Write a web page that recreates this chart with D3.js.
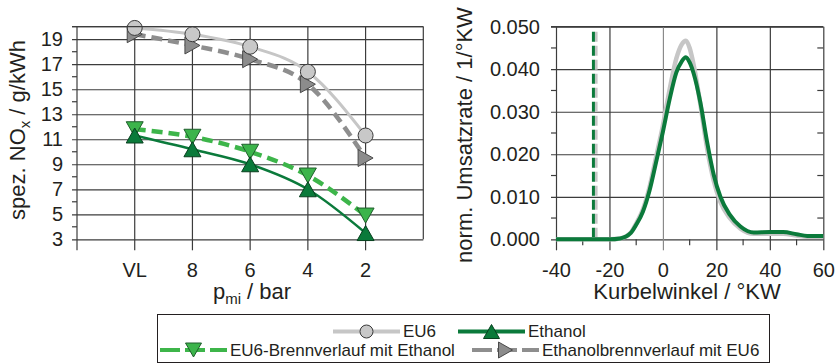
<!DOCTYPE html>
<html>
<head>
<meta charset="utf-8">
<script src="https://cdn.jsdelivr.net/npm/d3@7"></script>
<style>
    body { margin: 0; background: #fff; }
    text { font-family: "Liberation Sans", Arial, sans-serif; fill: #231f20; }
</style>
</head>
<body>
<div class="js-canvas"></div>
<script>
'use strict';

// left chart: NOx over load points
const categories = ['VL', '8', '6', '4', '2'];
const eu6 = [19.9, 19.4, 18.4, 16.4, 11.3];
const ethanolBrennEU6 = [19.4, 18.5, 17.4, 15.4, 9.5];
const eu6BrennEthanol = [11.8, 11.2, 10.0, 8.1, 4.9];
const ethanol = [11.3, 10.2, 9.0, 7.0, 3.5];
const noxTicks = [3, 5, 7, 9, 11, 13, 15, 17, 19];

// right chart: normalised heat release rate
const crankAngle = [-40, -20, -16, -12, -10, -7.5, -5, -2.5, 0, 2.5, 5, 7, 8.6, 10, 11.5, 14, 16.5, 19, 21.5, 25, 29, 34, 40, 45, 50, 54, 60];
const rateEU6 = [0, 0, 0.0002, 0.0016, 0.0037, 0.0070, 0.0123, 0.0195, 0.0268, 0.0352, 0.0425, 0.0458, 0.0467, 0.0450, 0.0410, 0.0318, 0.0215, 0.0138, 0.0088, 0.0050, 0.0025, 0.0013, 0.0013, 0.0013, 0.0009, 0.0006, 0.0006];
const rateEthanol = [0, 0, 0.0002, 0.0015, 0.0034, 0.0065, 0.0115, 0.0183, 0.0253, 0.0329, 0.0392, 0.0418, 0.0428, 0.0416, 0.0390, 0.0322, 0.0230, 0.0152, 0.0100, 0.0058, 0.0030, 0.0016, 0.0017, 0.0017, 0.0012, 0.0008, 0.0008];
const ignition = { eu6: -25, ethanol: -26, top: 0.0488 };
const angleTicks = [-40, -20, 0, 20, 40, 60];
const rateTicks = [0, 0.01, 0.02, 0.03, 0.04, 0.05];

const colors = {
    grid: '#3c3c3c',
    eu6: '#c6c6c6',
    grayDash: '#8e8e8e',
    lightGreen: '#3db54a',
    darkGreen: '#0b7a3b'
};

const svg = d3.select('.js-canvas')
    .append('svg')
    .attr('width', 840)
    .attr('height', 363)
    ;

// ---------- left chart ----------
const left = { x0: 77, x1: 423.3, y0: 26.7, y1: 239.3 };
const lw = left.x1 - left.x0;
const lh = left.y1 - left.y0;

const gL = svg.append('g')
    .attr('transform', `translate(${left.x0}, ${left.y0})`);

const xL = d3.scaleLinear().domain([0, 6]).range([0, lw]);
const yL = d3.scaleLinear().domain([3, 20]).range([lh, 0]);

// minor ticks on y (even values)
gL.append('g')
    .selectAll('line')
    .data(d3.range(4, 21, 2))
    .join('line')
    .attr('x1', -5).attr('x2', d => d === 20 ? lw : 0)
    .attr('y1', d => yL(d)).attr('y2', d => yL(d))
    .attr('stroke', colors.grid).attr('stroke-width', 1.2);

// y axis with grid lines
gL.append('g')
    .call(d3.axisLeft(yL).tickValues(noxTicks).tickSizeInner(-lw).tickSizeOuter(0).tickPadding(14))
    .call(g => g.select('.domain').remove())
    .call(g => g.selectAll('.tick line').attr('x1', -5).attr('stroke', colors.grid).attr('stroke-width', 1.2))
    .call(g => g.selectAll('.tick text').attr('font-size', 20).attr('font-family', null))
    ;

// vertical lines, categories at 1..5
gL.append('g')
    .selectAll('line')
    .data(d3.range(0, 7))
    .join('line')
    .attr('x1', d => xL(d)).attr('x2', d => xL(d))
    .attr('y1', 0).attr('y2', d => d === 6 ? lh : lh + 11)
    .attr('stroke', colors.grid).attr('stroke-width', 1.2);

gL.append('g')
    .selectAll('text')
    .data(categories)
    .join('text')
    .attr('x', (d, i) => xL(i + 1))
    .attr('y', lh + 37.5)
    .attr('text-anchor', 'middle')
    .attr('font-size', 20)
    .text(d => d);

const lineL = d3.line()
    .x((d, i) => xL(i + 1))
    .y(d => yL(d))
    .curve(d3.curveMonotoneX);

// marker shapes
const circle = r => `M${-r},0A${r},${r} 0 1,0 ${r},0A${r},${r} 0 1,0 ${-r},0Z`;
const triUp = (w, h) => `M0,${-h / 2}L${w / 2},${h / 2}L${-w / 2},${h / 2}Z`;
const triDown = (w, h) => `M0,${h / 2}L${w / 2},${-h / 2}L${-w / 2},${-h / 2}Z`;
const triRight = (w, h) => `M${w / 2},0L${-w / 2},${h / 2}L${-w / 2},${-h / 2}Z`;

const series = [
    { values: ethanolBrennEU6, stroke: colors.grayDash, width: 4.5, dash: '11,6', fill: '#8c8c8c', edge: '#4a4a4a', shape: triRight(15, 17) },
    { values: eu6, stroke: colors.eu6, width: 3, dash: null, fill: '#c8c8c8', edge: '#3a3a3a', shape: circle(7.5) },
    { values: eu6BrennEthanol, stroke: colors.lightGreen, width: 4.5, dash: '11,6', fill: '#3cb44b', edge: '#1f5e2c', shape: triDown(17, 15) },
    { values: ethanol, stroke: colors.darkGreen, width: 2.5, dash: null, fill: '#0a7a3a', edge: '#08401f', shape: triUp(17, 15) }
];

series.forEach(s => {
    gL.append('path')
        .datum(s.values)
        .attr('d', lineL)
        .attr('fill', 'none')
        .attr('stroke', s.stroke)
        .attr('stroke-width', s.width)
        .attr('stroke-dasharray', s.dash);
});

series.forEach(s => {
    gL.append('g')
        .selectAll('path')
        .data(s.values)
        .join('path')
        .attr('transform', (d, i) => `translate(${xL(i + 1)}, ${yL(d)})`)
        .attr('d', s.shape)
        .attr('fill', s.fill)
        .attr('stroke', s.edge)
        .attr('stroke-width', 1);
});

// frame on top
gL.append('line').attr('x1', -5).attr('x2', lw).attr('y1', 0).attr('y2', 0)
    .attr('stroke', colors.grid).attr('stroke-width', 1.2);

gL.append('text')
    .attr('transform', `translate(${25 - left.x0}, ${130 - left.y0}) rotate(-90)`)
    .attr('text-anchor', 'middle')
    .attr('font-size', 22)
    .call(t => {
        t.append('tspan').text('spez. NO');
        t.append('tspan').attr('font-size', 15).attr('dy', 5).text('x');
        t.append('tspan').attr('dy', -5).text(' / g/kWh');
    });

gL.append('text')
    .attr('x', 252 - left.x0)
    .attr('y', 299.5 - left.y0)
    .attr('text-anchor', 'middle')
    .attr('font-size', 22)
    .call(t => {
        t.append('tspan').text('p');
        t.append('tspan').attr('font-size', 15).attr('dy', 5).text('mi');
        t.append('tspan').attr('dy', -5).text(' / bar');
    });

// ---------- right chart ----------
const right = { x0: 556, x1: 823.3, y0: 26.7, y1: 239.3 };
const rw = right.x1 - right.x0;
const rh = right.y1 - right.y0;

const gR = svg.append('g')
    .attr('transform', `translate(${right.x0}, ${right.y0})`);

const xR = d3.scaleLinear().domain([-40, 60]).range([0, rw]);
const yR = d3.scaleLinear().domain([0, 0.05]).range([rh, 0]);

// minor ticks left (outside) and right (inside)
const minorRate = d3.range(0.005, 0.05, 0.01);
gR.append('g')
    .selectAll('line')
    .data(minorRate)
    .join('line')
    .attr('x1', -5).attr('x2', 0)
    .attr('y1', d => yR(d)).attr('y2', d => yR(d))
    .attr('stroke', colors.grid).attr('stroke-width', 1.2);
gR.append('g')
    .selectAll('line')
    .data(minorRate)
    .join('line')
    .attr('x1', rw - 6).attr('x2', rw)
    .attr('y1', d => yR(d)).attr('y2', d => yR(d))
    .attr('stroke', colors.grid).attr('stroke-width', 1.2);

// minor ticks bottom
gR.append('g')
    .selectAll('line')
    .data([-30, -10, 10, 30, 50])
    .join('line')
    .attr('x1', d => xR(d)).attr('x2', d => xR(d))
    .attr('y1', rh).attr('y2', rh + 6)
    .attr('stroke', colors.grid).attr('stroke-width', 1.2);

gR.append('g')
    .call(d3.axisLeft(yR).tickValues(rateTicks).tickFormat(d3.format('.3f')).tickSizeInner(-rw).tickSizeOuter(0).tickPadding(16))
    .call(g => g.select('.domain').remove())
    .call(g => g.selectAll('.tick line').attr('x1', -5).attr('stroke', colors.grid).attr('stroke-width', 1.2))
    .call(g => g.selectAll('.tick text').attr('font-size', 20).attr('font-family', null))
    ;

// plain hyphen for negative ticks, as in the original
gR.append('g')
    .call(d3.axisBottom(xR).tickValues(angleTicks).tickFormat(d => String(d)).tickSizeInner(-rh).tickSizeOuter(0))
    .attr('transform', `translate(0, ${rh})`)
    .call(g => g.select('.domain').remove())
    .call(g => g.selectAll('.tick line')
        .attr('y1', 11)
        .attr('stroke', d => d === 0 ? '#8a8a8a' : colors.grid)
        .attr('stroke-width', 1.2))
    .call(g => g.selectAll('.tick text')
        .attr('y', 37.5).attr('dy', null)
        .attr('font-size', 20).attr('font-family', null))
    ;

const lineR = d3.line()
    .x(d => xR(d[0]))
    .y(d => yR(d[1]))
    .curve(d3.curveMonotoneX);

// ignition markers
[[ignition.eu6, colors.eu6], [ignition.ethanol, colors.darkGreen]].forEach(([a, c]) => {
    gR.append('line')
        .attr('x1', xR(a)).attr('x2', xR(a))
        .attr('y1', yR(ignition.top)).attr('y2', yR(0))
        .attr('stroke', c)
        .attr('stroke-width', 3)
        .attr('stroke-dasharray', '10,4');
});

gR.append('path')
    .datum(d3.zip(crankAngle, rateEU6))
    .attr('d', lineR)
    .attr('fill', 'none')
    .attr('stroke', colors.eu6)
    .attr('stroke-width', 4.5);

gR.append('path')
    .datum(d3.zip(crankAngle, rateEthanol))
    .attr('d', lineR)
    .attr('fill', 'none')
    .attr('stroke', colors.darkGreen)
    .attr('stroke-width', 4);

gR.append('line').attr('x1', -5).attr('x2', rw).attr('y1', 0).attr('y2', 0)
    .attr('stroke', colors.grid).attr('stroke-width', 1.2);

gR.append('text')
    .attr('transform', `translate(${472 - right.x0}, ${135 - right.y0}) rotate(-90)`)
    .attr('text-anchor', 'middle')
    .attr('font-size', 22)
    .text('norm. Umsatzrate / 1/°KW');

gR.append('text')
    .attr('x', 687 - right.x0)
    .attr('y', 299 - right.y0)
    .attr('text-anchor', 'middle')
    .attr('font-size', 22)
    .text('Kurbelwinkel / °KW');

// ---------- legend ----------
const legend = svg.append('g');

legend.append('rect')
    .attr('x', 157.5).attr('y', 314.5)
    .attr('width', 612).attr('height', 48)
    .attr('fill', 'none')
    .attr('stroke', '#231f20')
    .attr('stroke-width', 1);

const legendItems = [
    { label: 'EU6', x: 333, y: 331.5, base: 337, s: series[1], shape: circle(6.5) },
    { label: 'Ethanol', x: 458, y: 331.5, base: 337, s: series[3], shape: triUp(16, 14) },
    { label: 'EU6-Brennverlauf mit Ethanol', x: 160, y: 350, base: 355.5, s: series[2], shape: triDown(16, 14) },
    { label: 'Ethanolbrennverlauf mit EU6', x: 472, y: 350, base: 355.5, s: series[0], shape: triRight(14, 16) }
];

legendItems.forEach(item => {
    const len = 67;
    legend.append('line')
        .attr('x1', item.x).attr('x2', item.x + len)
        .attr('y1', item.y).attr('y2', item.y)
        .attr('stroke', item.s.stroke)
        .attr('stroke-width', 4)
        .attr('stroke-dasharray', item.s.dash ? '20,5' : null);
    legend.append('path')
        .attr('transform', `translate(${item.x + len / 2}, ${item.y})`)
        .attr('d', item.shape)
        .attr('fill', item.s.fill)
        .attr('stroke', item.s.edge)
        .attr('stroke-width', 1);
    legend.append('text')
        .attr('x', item.x + len + 3)
        .attr('y', item.base)
        .attr('font-size', 17)
        .text(item.label);
});
</script>
</body>
</html>
